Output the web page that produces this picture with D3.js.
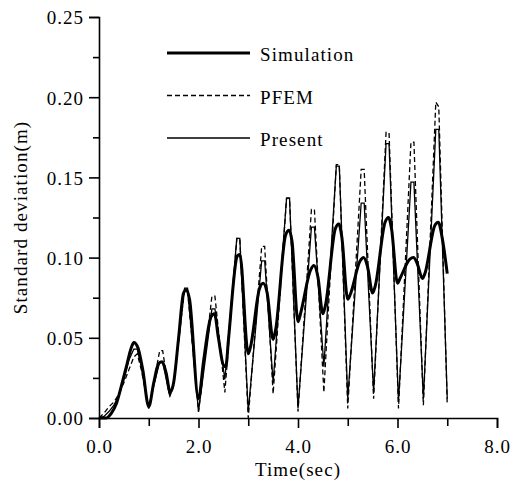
<!DOCTYPE html>
<html>
<head>
<meta charset="utf-8">
<script src="https://cdn.jsdelivr.net/npm/d3@7"></script>
<style>
  body { margin: 0; background: #fff; }
  svg { display: block; }
  .axis path, .axis line { stroke: #000; stroke-width: 1.6; }
  .axis text { font-family: "Liberation Serif", "DejaVu Serif", serif; font-size: 19px; fill: #000; letter-spacing: 1px; }
  .label, .legend text { font-family: "Liberation Serif", "DejaVu Serif", serif; font-size: 19px; fill: #000; letter-spacing: 1.1px; }
</style>
</head>
<body>
<div class="chart"></div>
<script>
// Simulation (thick line)
const simTime = [0, 0.15, 0.25, 0.35, 0.45, 0.55, 0.65, 0.7, 0.78, 0.88,
	1.0, 1.1, 1.2, 1.27, 1.35, 1.43, 1.5, 1.6, 1.7, 1.76,
	1.82, 2.0, 2.1, 2.25, 2.32, 2.4, 2.5, 2.55, 2.6, 2.78,
	2.83, 3.0, 3.05, 3.22, 3.3, 3.38, 3.5, 3.55, 3.75, 3.82,
	3.88, 4.0, 4.05, 4.25, 4.32, 4.4, 4.5, 4.55, 4.75, 4.82,
	4.88, 5.0, 5.05, 5.25, 5.32, 5.4, 5.5, 5.55, 5.75, 5.82,
	5.88, 6.0, 6.05, 6.25, 6.32, 6.4, 6.5, 6.55, 6.75, 6.82,
	6.9, 7.0];
const simValue = [0, 0, 0.003, 0.009, 0.02, 0.032, 0.044, 0.047, 0.044, 0.03,
	0.007, 0.022, 0.034, 0.035, 0.028, 0.016, 0.022, 0.05, 0.078, 0.08,
	0.074, 0.012, 0.035, 0.063, 0.065, 0.05, 0.033, 0.032, 0.048, 0.101,
	0.102, 0.04, 0.045, 0.08, 0.084, 0.078, 0.049, 0.055, 0.114, 0.117,
	0.11, 0.06, 0.065, 0.092, 0.095, 0.088, 0.065, 0.07, 0.118, 0.121,
	0.113, 0.074, 0.077, 0.098, 0.1, 0.094, 0.078, 0.082, 0.122, 0.125,
	0.118, 0.084, 0.087, 0.099, 0.1, 0.096, 0.087, 0.09, 0.12, 0.122,
	0.112, 0.09];

// PFEM (dashed) and Present (thin) share these time points
const calcTime = [0, 0.1, 0.2, 0.3, 0.4, 0.5, 0.6, 0.7, 0.77, 0.85,
	1.0, 1.1, 1.22, 1.28, 1.42, 1.5, 1.72, 1.78,
	2.0, 2.27, 2.33, 2.53, 2.77, 2.83,
	3.0, 3.27, 3.33, 3.5, 3.77, 3.83,
	4.0, 4.27, 4.33, 4.52, 4.77, 4.83,
	5.0, 5.27, 5.33, 5.52, 5.77, 5.83,
	6.02, 6.27, 6.33, 6.52, 6.77, 6.83,
	7.0];
const presentValue = [0, 0.001, 0.004, 0.008, 0.014, 0.024, 0.036, 0.043, 0.043, 0.032,
	0.006, 0.02, 0.035, 0.035, 0.014, 0.022, 0.081, 0.081,
	0.004, 0.068, 0.068, 0.024, 0.112, 0.112,
	0.004, 0.098, 0.098, 0.022, 0.137, 0.137,
	0.006, 0.119, 0.119, 0.032, 0.157, 0.157,
	0.012, 0.134, 0.134, 0.016, 0.171, 0.171,
	0.010, 0.147, 0.147, 0.012, 0.180, 0.180,
	0.012];
const pfemValue = [0, 0.003, 0.007, 0.010, 0.015, 0.022, 0.030, 0.038, 0.040, 0.030,
	0.006, 0.022, 0.042, 0.042, 0.013, 0.020, 0.080, 0.079,
	0.004, 0.076, 0.076, 0.016, 0.112, 0.112,
	0.0, 0.107, 0.107, 0.015, 0.137, 0.137,
	0.004, 0.130, 0.130, 0.016, 0.158, 0.158,
	0.006, 0.155, 0.155, 0.012, 0.178, 0.178,
	0.006, 0.172, 0.172, 0.008, 0.197, 0.194,
	0.008];

const legendNames = ['Simulation', 'PFEM', 'Present'];
const xTicks = [0, 1, 2, 3, 4, 5, 6, 7, 8];
const yTicks = [0, 0.025, 0.05, 0.075, 0.1, 0.125, 0.15, 0.175, 0.2, 0.225, 0.25];

const outerW = 513,
	outerH = 482;
const margin = { left: 99, right: 16, top: 17, bottom: 64 };
const w = outerW - margin.left - margin.right,
	h = outerH - margin.top - margin.bottom;

const svg = d3.select('.chart').append('svg')
	.attr('width', outerW)
	.attr('height', outerH);

const g = svg.append('g')
	.attr('transform', `translate(${margin.left}, ${margin.top})`);

const x = d3.scaleLinear().domain([0, 8]).range([0, 398]);
const y = d3.scaleLinear().domain([0, 0.25]).range([h, 0]);

// x axis: labels on even seconds only
const xAxis = g.append('g')
	.attr('class', 'x axis')
	.attr('transform', `translate(0, ${h})`)
	.call(d3.axisBottom(x)
		.tickValues(xTicks)
		.tickSizeOuter(0)
		.tickSize(10)
		.tickPadding(12)
		.tickFormat(d => d % 2 === 0 ? d3.format('.1f')(d) : '')
	);
xAxis.selectAll('.tick line').attr('y2', d => d % 2 === 0 ? 10 : 8);

// y axis: minor ticks between labelled ones
const yAxis = g.append('g')
	.attr('class', 'y axis')
	.call(d3.axisLeft(y)
		.tickValues(yTicks)
		.tickSizeOuter(0)
		.tickSize(10)
		.tickPadding(5)
		.tickFormat(d => Math.round(d * 1000) % 50 === 0 ? d3.format('.2f')(d) : '')
	);
yAxis.selectAll('.tick line').attr('x2', d => Math.round(d * 1000) % 50 === 0 ? -10 : -6);
yAxis.selectAll('.tick text').attr('dy', '0.36em');

// lines
const line = d3.line()
	.x(d => x(d[0]))
	.y(d => y(d[1]));

g.append('path')
	.datum(calcTime.map((t, i) => [t, pfemValue[i]]))
	.attr('fill', 'none')
	.attr('stroke', '#000')
	.attr('stroke-width', 1.3)
	.attr('stroke-dasharray', '5,3')
	.attr('d', line);

g.append('path')
	.datum(calcTime.map((t, i) => [t, presentValue[i]]))
	.attr('fill', 'none')
	.attr('stroke', '#000')
	.attr('stroke-width', 1.3)
	.attr('d', line);

g.append('path')
	.datum(simTime.map((t, i) => [t, simValue[i]]))
	.attr('fill', 'none')
	.attr('stroke', '#000')
	.attr('stroke-width', 3)
	.attr('stroke-linejoin', 'round')
	.attr('d', line.curve(d3.curveMonotoneX));

// legend
const legendStyles = [
	{ width: 3, dash: null },
	{ width: 1.3, dash: '5,3' },
	{ width: 1.3, dash: null }
];
const legend = svg.append('g').attr('class', 'legend');
legendNames.forEach((name, i) => {
	const ly = 53 + i * 42.5;
	legend.append('line')
		.attr('x1', 167).attr('x2', 250)
		.attr('y1', ly).attr('y2', ly)
		.attr('stroke', '#000')
		.attr('stroke-width', legendStyles[i].width)
		.attr('stroke-dasharray', legendStyles[i].dash);
	legend.append('text')
		.attr('x', 260)
		.attr('y', ly + 8)
		.text(name);
});

// axis titles
svg.append('text')
	.attr('class', 'label')
	.attr('x', margin.left + x(4))
	.attr('y', 476)
	.attr('text-anchor', 'middle')
	.text('Time(sec)');

svg.append('text')
	.attr('class', 'label')
	.attr('transform', `translate(27, ${margin.top + h / 2}) rotate(-90)`)
	.attr('text-anchor', 'middle')
	.text('Standard deviation(m)');
</script>
</body>
</html>
